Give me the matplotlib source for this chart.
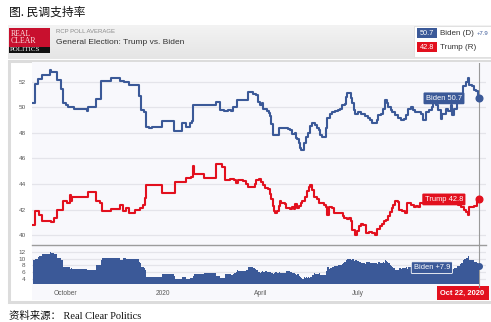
import numpy as np
import matplotlib
matplotlib.use("Agg")
import matplotlib.pyplot as plt
import matplotlib.dates as mdates
from matplotlib.patches import Rectangle
from matplotlib.colors import LinearSegmentedColormap

# ---- RCP polling average, general election 2020 ----
biden_dates = [
    "2019-09-01", "2019-09-03", "2019-09-06", "2019-09-10", "2019-09-17", "2019-09-18",
    "2019-09-24", "2019-09-27", "2019-09-29", "2019-10-02", "2019-10-04", "2019-10-08",
    "2019-10-09", "2019-10-22", "2019-10-23", "2019-10-30", "2019-11-04", "2019-11-13",
    "2019-11-21", "2019-11-25", "2019-11-30", "2019-12-09", "2019-12-11", "2019-12-14",
    "2019-12-16", "2019-12-19", "2019-12-21", "2019-12-31", "2020-01-11", "2020-01-18",
    "2020-01-22", "2020-01-26", "2020-01-28", "2020-01-29", "2020-02-19", "2020-02-23",
    "2020-02-27", "2020-03-01", "2020-03-04", "2020-03-06", "2020-03-10", "2020-03-20",
    "2020-03-25", "2020-03-28", "2020-03-29", "2020-03-31", "2020-04-02", "2020-04-03",
    "2020-04-07", "2020-04-09", "2020-04-10", "2020-04-11", "2020-04-12", "2020-04-18",
    "2020-04-26", "2020-04-28", "2020-04-30", "2020-05-03", "2020-05-04", "2020-05-05",
    "2020-05-07", "2020-05-08", "2020-05-09", "2020-05-11", "2020-05-13", "2020-05-15",
    "2020-05-17", "2020-05-19", "2020-05-22", "2020-05-24", "2020-05-25", "2020-05-26",
    "2020-05-28", "2020-06-01", "2020-06-02", "2020-06-05", "2020-06-07", "2020-06-09",
    "2020-06-12", "2020-06-14", "2020-06-16", "2020-06-19", "2020-06-20", "2020-06-21",
    "2020-06-22", "2020-06-24", "2020-06-25", "2020-06-27", "2020-06-28", "2020-07-01",
    "2020-07-04", "2020-07-05", "2020-07-07", "2020-07-10", "2020-07-12", "2020-07-14",
    "2020-07-17", "2020-07-19", "2020-07-20", "2020-07-22", "2020-07-24", "2020-07-26",
    "2020-07-28", "2020-07-29", "2020-08-01", "2020-08-02", "2020-08-04", "2020-08-07",
    "2020-08-10", "2020-08-13", "2020-08-15", "2020-08-17", "2020-08-19", "2020-08-21",
    "2020-08-23", "2020-08-26", "2020-08-29", "2020-08-31", "2020-09-02", "2020-09-05",
    "2020-09-08", "2020-09-09", "2020-09-12", "2020-09-14", "2020-09-16", "2020-09-17",
    "2020-09-21", "2020-09-23", "2020-09-26", "2020-09-27", "2020-09-29", "2020-10-01",
    "2020-10-04", "2020-10-07", "2020-10-10", "2020-10-12", "2020-10-13", "2020-10-15",
    "2020-10-17", "2020-10-19", "2020-10-21", "2020-10-22",
]
biden = [
    50.3, 51.85, 52.2, 52.55, 52.95, 52.75,
    52.1, 51.45, 50.3, 50.15, 50.0, 50.05,
    49.9, 49.7, 50.0, 50.65, 52.05, 52.3,
    52.05, 51.95, 51.75, 50.9, 49.8, 49.6,
    48.45, 48.4, 48.45, 48.9, 48.15, 48.75,
    48.45, 48.75, 48.9, 50.15, 50.4, 49.75,
    49.7, 49.75, 49.7, 50.0, 50.6, 51.2,
    51.0, 50.95, 50.4, 50.2, 50.35, 49.9,
    49.7, 49.55, 49.3, 48.7, 47.8, 48.35,
    48.3, 48.2, 47.95, 48.0, 47.6, 47.55,
    47.2, 46.8, 46.7, 47.2, 47.7, 48.0,
    48.5, 48.75, 48.6, 48.4, 48.2, 47.8,
    47.65, 48.4, 49.15, 49.5, 49.6, 49.7,
    49.75, 49.9, 50.2, 50.25, 50.8, 51.15,
    51.1, 50.7, 50.3, 49.8, 49.5, 49.6,
    49.5, 49.45, 49.3, 49.2, 49.0, 48.8,
    48.75, 49.0, 49.4, 49.5, 49.9, 50.55,
    50.3, 50.05, 49.8, 49.6, 49.4, 49.2,
    49.0, 49.1, 49.4, 49.9, 50.0, 49.8,
    49.6, 49.65, 49.5, 49.0, 49.65, 49.8,
    50.0, 50.3, 50.2, 49.8, 49.05, 49.5,
    49.9, 49.7, 50.2, 49.4, 49.9, 50.3,
    50.9, 51.7, 52.0, 52.25, 51.75, 51.7,
    51.35, 51.3, 50.9, 50.7,
]

trump_dates = [
    "2019-09-01", "2019-09-03", "2019-09-07", "2019-09-10", "2019-09-18", "2019-09-21",
    "2019-09-24", "2019-09-29", "2019-10-03", "2019-10-06", "2019-10-07", "2019-10-08",
    "2019-10-23", "2019-10-30", "2019-11-03", "2019-11-05", "2019-11-13", "2019-11-21",
    "2019-11-24", "2019-11-27", "2019-11-30", "2019-12-05", "2019-12-10", "2019-12-13",
    "2019-12-15", "2019-12-16", "2019-12-31", "2020-01-12", "2020-01-22", "2020-01-27",
    "2020-01-29", "2020-01-30", "2020-02-08", "2020-02-19", "2020-02-25", "2020-02-28",
    "2020-03-03", "2020-03-07", "2020-03-09", "2020-03-11", "2020-03-15", "2020-03-18",
    "2020-03-20", "2020-03-27", "2020-03-28", "2020-03-30", "2020-04-01", "2020-04-03",
    "2020-04-05", "2020-04-08", "2020-04-10", "2020-04-11", "2020-04-12", "2020-04-13",
    "2020-04-14", "2020-04-16", "2020-04-18", "2020-04-19", "2020-04-20", "2020-04-24",
    "2020-04-25", "2020-04-28", "2020-04-30", "2020-05-02", "2020-05-03", "2020-05-05",
    "2020-05-07", "2020-05-09", "2020-05-10", "2020-05-12", "2020-05-14", "2020-05-16",
    "2020-05-17", "2020-05-19", "2020-05-21", "2020-05-24", "2020-05-25", "2020-05-30",
    "2020-06-01", "2020-06-02", "2020-06-04", "2020-06-07", "2020-06-08", "2020-06-17",
    "2020-06-18", "2020-06-21", "2020-06-22", "2020-06-24", "2020-06-25", "2020-06-28",
    "2020-06-30", "2020-07-02", "2020-07-04", "2020-07-06", "2020-07-08", "2020-07-11",
    "2020-07-14", "2020-07-17", "2020-07-19", "2020-07-21", "2020-07-23", "2020-07-25",
    "2020-07-27", "2020-07-29", "2020-07-31", "2020-08-02", "2020-08-03", "2020-08-04",
    "2020-08-07", "2020-08-08", "2020-08-11", "2020-08-14", "2020-08-16", "2020-08-19",
    "2020-08-22", "2020-08-24", "2020-08-26", "2020-08-28", "2020-09-15", "2020-10-02",
    "2020-10-05", "2020-10-08", "2020-10-10", "2020-10-12", "2020-10-13", "2020-10-17",
    "2020-10-20", "2020-10-22",
]
trump = [
    40.8, 41.9, 41.55, 41.1, 41.0, 41.35,
    42.0, 42.65, 42.5, 43.15, 42.7, 43.0,
    43.4, 42.65, 42.5, 41.9, 42.05, 42.4,
    41.9, 42.1, 41.75, 42.0, 42.15, 42.4,
    42.9, 43.95, 43.3, 44.15, 44.45, 44.55,
    45.4, 44.75, 44.5, 45.55, 45.35, 44.35,
    44.4, 44.3, 44.05, 44.3, 44.25, 44.0,
    43.75, 44.0, 44.3, 44.4, 44.15, 43.9,
    43.7, 43.6, 43.2, 42.8, 42.3, 41.9,
    41.75, 41.9, 42.3, 42.65, 42.5, 42.45,
    42.1, 42.05, 42.2, 42.05, 42.45, 42.1,
    42.3, 42.5, 42.65, 43.0, 43.45, 43.8,
    43.95, 43.5, 43.0, 42.85, 42.5, 42.35,
    42.2, 41.55, 42.2, 42.1, 41.75, 41.5,
    41.35, 41.25, 41.35, 41.1, 40.4, 40.05,
    40.35, 40.7, 40.85, 40.8, 40.2, 40.25,
    40.15, 40.05, 40.5, 40.7, 40.85, 41.1,
    41.2, 41.5, 41.85, 42.1, 42.4, 42.65,
    42.6, 42.0, 41.9, 41.75, 42.5, 42.4,
    42.2, 42.25, 42.2, 42.5, 42.6, 42.4,
    42.2, 41.95, 41.8, 41.6, 42.2, 42.3,
    42.65, 42.8,
]

month_ticks = ["2019-10-01", "2020-01-01", "2020-04-01", "2020-07-01"]
month_labels = ["October", "2020", "April", "July"]
top_ticks = [40, 42, 44, 46, 48, 50, 52]
spread_ticks = [4, 6, 8, 10, 12]

BLUE = "#3b5998"
RED = "#e2101e"
GRID = "#e4e4ea"
TICK = "#5a5a5a"
PLOT_BG = "#f8f8fc"

plt.rcParams["font.family"] = ["Liberation Sans", "DejaVu Sans"]

W, H = 491, 322
fig = plt.figure(figsize=(W / 100, H / 100), dpi=100)
fig.patch.set_facecolor("white")


def px_axes(x0, y0, x1, y1, **kw):
    return fig.add_axes([x0 / W, 1 - y1 / H, (x1 - x0) / W, (y1 - y0) / H], **kw)


def to_num(ds):
    return mdates.date2num(np.array(ds, dtype="datetime64[D]"))


# ---------- page furniture drawn in pixel coordinates ----------
bg = fig.add_axes([0, 0, 1, 1], zorder=0)
bg.axis("off")

bg.text(9, 12, "图. 民调支持率", fontsize=8.5, family=["Noto Sans CJK SC", "DejaVu Sans"],
        ha="left", va="center", color="#111111")

hdr_cmap = LinearSegmentedColormap.from_list("hdr", ["#f3f3f3", "#e5e5e5"])
bg.imshow(np.linspace(0, 1, 40)[:, None], extent=(8, W, 59, 25), cmap=hdr_cmap,
          aspect="auto", origin="upper", zorder=1)

# logo
bg.add_patch(Rectangle((9, 28), 41, 18.5, fc="#c8102e", ec="none", zorder=2))
bg.add_patch(Rectangle((9, 46.5), 41, 6.5, fc="#111111", ec="none", zorder=2))
for txt, yy in [("REAL", 33.5), ("CLEAR", 40.5)]:
    bg.text(10.5, yy, txt, fontsize=5.6, family="Liberation Serif", color="#fbe3e3",
            ha="left", va="center", zorder=3)
bg.text(10, 49.8, "POLITICS", fontsize=5.0, family="Liberation Serif", color="white",
        ha="left", va="center", zorder=3)

bg.text(56, 31, "RCP POLL AVERAGE", fontsize=4.3, color="#8a8a8a", ha="left", va="center", zorder=3)
bg.text(56, 42, "General Election: Trump vs. Biden", fontsize=6.0, color="#333333",
        ha="left", va="center", zorder=3)

# legend block
bg.add_patch(Rectangle((414, 25.5), 80, 31, fc="white", ec="#dddddd", lw=0.6, zorder=2))
bg.add_patch(Rectangle((417, 28), 20.5, 10, fc=BLUE, ec="none", zorder=3))
bg.text(427.2, 33.2, f"{biden[-1]:.1f}", fontsize=5.3, color="white", ha="center", va="center", zorder=4)
bg.text(440.5, 33.2, "Biden (D)", fontsize=5.8, color="#333333", ha="left", va="center", zorder=4)
bg.text(476.5, 33.2, f"+{biden[-1] - trump[-1]:.1f}", fontsize=4.3, color=BLUE,
        ha="left", va="center", zorder=4)
bg.add_patch(Rectangle((417, 42), 20.5, 10, fc=RED, ec="none", zorder=3))
bg.text(427.2, 47.2, f"{trump[-1]:.1f}", fontsize=5.3, color="white", ha="center", va="center", zorder=4)
bg.text(440.5, 47.2, "Trump (R)", fontsize=5.8, color="#333333", ha="left", va="center", zorder=4)

# chart frame and plotting background
bg.add_patch(Rectangle((9.5, 60.5), 490, 241, fc="white", ec="#dcdcdc", lw=2.2, zorder=1))
bg.add_patch(Rectangle((32, 62), W - 32, 238, fc=PLOT_BG, ec="none", zorder=2))
bg.plot([32, 486], [245, 245], color="#9c9c9c", lw=1.0, zorder=3)

bg.text(9, 316, "资料来源： Real Clear Politics", fontsize=7.5,
        family=["Liberation Serif", "Noto Sans CJK SC"], ha="left", va="center", color="#111111")

bg.set_xlim(0, W)
bg.set_ylim(H, 0)

# ---------- data ----------
bd = to_num(biden_dates)
td = to_num(trump_dates)
bv = np.array(biden)
tv = np.array(trump)
grid_days = np.union1d(bd, td)
b_on = bv[np.searchsorted(bd, grid_days, side="right") - 1]
t_on = tv[np.searchsorted(td, grid_days, side="right") - 1]
spread = b_on - t_on

origin = mdates.date2num(np.datetime64("2019-10-01"))
x_left, x_right = origin - 30.8, origin + 393.5
end = bd[-1]

ax_top = px_axes(32, 63, 486, 245, zorder=2)
ax_bot = px_axes(32, 245, 486, 283, zorder=2)

for ax in (ax_top, ax_bot):
    ax.set_facecolor("none")
    for s in ax.spines.values():
        s.set_visible(False)
    ax.set_xlim(x_left, x_right)
    ax.tick_params(axis="both", length=0, labelsize=4.6, labelcolor=TICK)
    ax.tick_params(axis="y", pad=4.5)
    ax.grid(axis="y", color=GRID, lw=0.9)
    ax.set_axisbelow(True)

ax_top.set_ylim(39.24, 53.46)
ax_top.set_yticks(top_ticks)
ax_top.set_xticks([])

ax_top.axvline(end, color="#9a9a9a", lw=0.8, zorder=1)
ax_top.plot(bd, bv, drawstyle="steps-post", color=BLUE, lw=1.5, zorder=3)
ax_top.plot(td, tv, drawstyle="steps-post", color=RED, lw=1.5, zorder=3)
ax_top.plot([end], [bv[-1]], "o", color=BLUE, ms=4.8, zorder=4)
ax_top.plot([end], [tv[-1]], "o", color=RED, ms=4.8, zorder=4)

ax_top.annotate(f"Biden {bv[-1]:.1f}", xy=(end, bv[-1]), xytext=(-17, 0),
                textcoords="offset pixels", ha="right", va="center", fontsize=5.4, color="white",
                bbox=dict(boxstyle="round,pad=0.32,rounding_size=0.15", fc=BLUE, ec="none"), zorder=5)
ax_top.annotate(f"Trump {tv[-1]:.1f}", xy=(end, tv[-1]), xytext=(-16, 0),
                textcoords="offset pixels", ha="right", va="center", fontsize=5.4, color="white",
                bbox=dict(boxstyle="round,pad=0.32,rounding_size=0.15", fc=RED, ec="none"), zorder=5)

ax_bot.set_ylim(2.83, 13.96)
ax_bot.set_yticks(spread_ticks)
ax_bot.axvline(end, ymin=-0.1, ymax=1, color="#9a9a9a", lw=0.8, zorder=1, clip_on=False)
ax_bot.fill_between(grid_days, spread, 0, step="post", color=BLUE, lw=0, zorder=2)
ax_bot.plot([end], [spread[-1]], "o", color=BLUE, ms=4.0, zorder=4)
ax_bot.annotate(f"Biden +{spread[-1]:.1f}", xy=(end, spread[-1]), xytext=(-29, -2),
                textcoords="offset pixels", ha="right", va="center", fontsize=5.4, color="white",
                bbox=dict(boxstyle="round,pad=0.32,rounding_size=0.15", fc=BLUE, ec="white", lw=0.6),
                zorder=5)

ax_bot.set_xticks(to_num(month_ticks))
ax_bot.set_xticklabels(month_labels)
ax_bot.tick_params(axis="x", pad=5.0, labelsize=4.8)

# date flag under the crosshair
bg.add_patch(Rectangle((437, 286), 52, 14, fc=RED, ec="none", zorder=4))
bg.text(462.5, 293.2, "Oct 22, 2020", fontsize=5.4, color="white", fontweight="bold",
        ha="center", va="center", zorder=5)

fig.savefig("out.png", dpi=100)
